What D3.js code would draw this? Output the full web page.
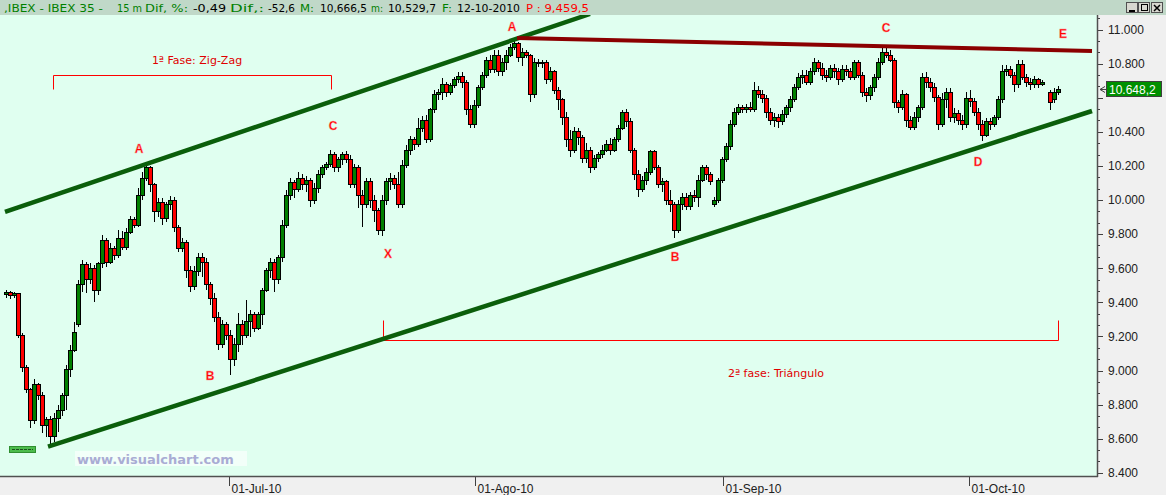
<!DOCTYPE html>
<html lang="es">
<head>
<meta charset="utf-8">
<title>IBEX 35 - 15 m</title>
<style>
  body { margin: 0; background: #f0f0f0; overflow: hidden; }
  svg { display: block; }
  text { font-family: 'Liberation Sans', Arial, sans-serif; }
</style>
</head>
<body>
<div id="chart"></div>
<script src="https://cdn.jsdelivr.net/npm/d3@7/dist/d3.min.js"></script>
<script>
// candles as [open, high, low, close], one per bar, null = no bar
var candles = [
  [9443,9472,9425,9455],[9455,9466,9419,9437],[9437,9460,9425,9449],[9449,9455,9191,9208],
  [9208,9220,8991,9015],[9015,9032,8868,8886],[8886,8897,8663,8704],[8704,8950,8686,8915],
  [8915,8927,8827,8856],[8856,8874,8634,8680],[8680,8727,8610,8710],[8710,8733,8551,8610],
  [8610,8751,8581,8721],[8721,8798,8639,8768],[8768,8868,8733,8856],[8856,9032,8768,9003],
  [9003,9150,8962,9120],[9120,9285,9109,9220],[9267,9531,9255,9502],[9502,9648,9460,9619],
  [9619,9636,9455,9531],[9531,9631,9507,9601],[9601,9619,9402,9472],[9472,9636,9443,9625],
  [9625,9795,9601,9765],[9765,9777,9607,9636],[9636,9748,9625,9718],[9718,9730,9648,9672],
  [9672,9824,9660,9777],[9777,9818,9707,9724],[9724,9836,9707,9812],[9812,9906,9801,9883],
  [9883,9900,9836,9853],[9853,10070,9842,10029],[10029,10164,10000,10129],[10129,10211,10111,10188],
  [10188,10199,10047,10088],[10088,10100,9871,9930],[9930,10012,9900,9988],[9988,10012,9853,9894],
  [9894,9988,9871,9971],[9971,10023,9941,10000],[10000,10018,9812,9836],[9836,9853,9695,9718],
  [9718,9777,9695,9748],[9748,9765,9543,9589],[9589,9613,9460,9490],[9490,9613,9472,9578],
  [9578,9689,9554,9660],[9660,9689,9548,9636],[9636,9660,9472,9502],[9502,9519,9384,9425],
  [9425,9455,9285,9308],[9308,9343,9120,9150],[9150,9296,9132,9267],[9267,9285,9179,9208],
  [9208,9238,8974,9062],[9062,9191,9026,9150],[9150,9337,9109,9267],[9267,9296,9150,9208],
  [9208,9414,9191,9285],[9285,9355,9197,9326],[9326,9343,9226,9249],[9249,9343,9238,9326],
  [9326,9484,9267,9472],[9472,9601,9460,9589],[9589,9660,9543,9636],[9636,9654,9460,9531],
  [9531,9677,9507,9660],[9660,9883,9636,9853],[9853,10059,9836,10029],[10029,10129,10000,10100],
  [10100,10117,10012,10059],[10059,10164,10047,10129],[10129,10153,10059,10088],[10088,10141,10047,10117],
  [10117,10129,9959,10000],[10000,10100,9977,10070],[10070,10176,10041,10147],[10147,10205,10129,10188],
  [10188,10223,10176,10211],[10211,10293,10194,10264],[10264,10282,10164,10188],[10188,10252,10164,10235],
  [10235,10282,10205,10264],[10264,10287,10217,10235],[10235,10264,10070,10088],[10088,10211,10070,10188],
  [10188,10205,9953,10029],[10029,10059,9842,9971],[9971,10129,9953,10106],[10106,10129,9953,10000],
  [10000,10029,9871,9941],[9941,9953,9795,9824],[9824,10029,9789,10000],[10000,10129,9971,10106],
  [10106,10158,10059,10129],[10129,10147,10065,10088],[10088,10164,9953,9971],[9971,10235,9953,10205],
  [10205,10323,10188,10293],[10293,10375,10264,10352],[10352,10370,10293,10323],[10323,10481,10311,10422],
  [10422,10493,10399,10469],[10469,10499,10334,10352],[10352,10540,10340,10528],[10528,10645,10510,10616],
  [10616,10651,10587,10628],[10628,10716,10587,10675],[10675,10692,10604,10633],[10633,10686,10616,10669],
  [10669,10721,10657,10704],[10704,10751,10686,10727],[10727,10751,10657,10692],[10692,10704,10499,10528],
  [10528,10557,10422,10440],[10440,10587,10422,10557],[10557,10675,10540,10657],[10657,10751,10645,10733],
  [10733,10839,10716,10821],[10821,10850,10745,10763],[10763,10880,10745,10850],[10850,10880,10727,10751],
  [10751,10833,10727,10809],[10809,10880,10763,10850],[10850,10915,10839,10897],[10897,10938,10880,10915],
  [10915,10927,10809,10833],[10833,10892,10786,10868],[10868,10880,10833,10845],[10845,10856,10575,10616],
  [10616,10833,10598,10809],[10809,10827,10780,10798],[10798,10821,10774,10809],[10809,10821,10680,10704],
  [10704,10780,10692,10751],[10751,10763,10622,10645],[10645,10663,10528,10587],[10587,10598,10440,10481],
  [10481,10516,10311,10352],[10352,10411,10252,10293],[10293,10428,10276,10399],[10399,10422,10323,10364],
  [10364,10381,10217,10246],[10246,10334,10217,10293],[10293,10311,10158,10188],[10188,10264,10176,10246],
  [10246,10282,10223,10264],[10264,10323,10246,10293],[10293,10352,10282,10323],[10323,10364,10264,10293],
  [10293,10370,10282,10352],[10352,10440,10340,10422],[10422,10528,10411,10516],[10516,10534,10428,10458],
  [10458,10481,10276,10293],[10293,10305,10117,10147],[10147,10176,10018,10059],[10059,10141,10047,10117],
  [10117,10188,10088,10164],[10164,10293,10147,10282],[10282,10293,10176,10188],[10188,10205,10070,10088],
  [10088,10129,10047,10106],[10106,10117,9971,10000],[10000,10059,9930,9971],[9971,9988,9777,9824],
  [9824,10000,9807,9971],[9971,10041,9941,10012],[10012,10041,9941,9959],[9959,10047,9941,10029],
  [10029,10059,9988,10012],[10012,10147,9959,10117],[10117,10205,10106,10188],[10188,10205,10117,10147],
  [10147,10164,10088,10106],[9971,10018,9959,10000],[10000,10129,9982,10117],[10117,10252,10100,10235],
  [10235,10334,10223,10311],[10311,10469,10293,10440],[10440,10540,10428,10516],[10516,10563,10499,10540],
  [10540,10557,10510,10528],[10528,10563,10510,10545],[10545,10575,10516,10528],[10528,10692,10516,10645],
  [10645,10669,10598,10616],[10616,10645,10569,10598],[10598,10616,10481,10516],[10516,10540,10440,10469],
  [10469,10510,10428,10481],[10481,10504,10422,10458],[10458,10528,10440,10499],[10499,10557,10481,10540],
  [10540,10610,10516,10587],[10587,10680,10575,10657],[10657,10745,10645,10716],[10716,10763,10680,10733],
  [10733,10763,10675,10692],[10692,10774,10675,10751],[10751,10833,10733,10809],[10809,10821,10751,10774],
  [10774,10804,10704,10733],[10733,10763,10692,10716],[10716,10792,10704,10774],[10774,10798,10716,10751],
  [10751,10774,10675,10704],[10704,10792,10692,10763],[10763,10792,10727,10751],[10751,10774,10704,10716],
  [10716,10821,10704,10804],[10804,10821,10716,10733],[10733,10751,10604,10633],[10633,10657,10575,10610],
  [10610,10675,10587,10657],[10657,10739,10633,10716],[10716,10833,10704,10809],[10809,10892,10792,10868],
  [10868,10897,10833,10845],[10845,10880,10809,10821],[10821,10833,10540,10569],[10569,10587,10510,10540],
  [10540,10645,10528,10616],[10616,10628,10428,10469],[10469,10493,10411,10428],[10428,10516,10411,10481],
  [10481,10557,10458,10540],[10540,10745,10528,10721],[10721,10751,10657,10692],[10692,10716,10633,10657],
  [10657,10686,10575,10604],[10604,10616,10411,10440],[10440,10628,10428,10587],[10587,10657,10540,10633],
  [10633,10657,10458,10481],[10481,10540,10452,10510],[10510,10528,10440,10469],[10469,10499,10411,10440],
  [10440,10633,10422,10598],[10598,10645,10545,10575],[10575,10598,10493,10516],[10516,10540,10411,10440],
  [10440,10469,10346,10381],[10381,10481,10370,10458],[10458,10481,10411,10440],[10440,10499,10428,10481],
  [10481,10610,10469,10587],[10587,10792,10569,10751],[10751,10792,10727,10763],[10763,10786,10716,10733],
  [10733,10751,10633,10675],[10675,10821,10657,10792],[10792,10821,10704,10721],[10721,10739,10663,10692],
  [10692,10716,10645,10675],[10675,10727,10657,10704],[10704,10716,10657,10675],[10675,10704,10669,10692],
  null,[10628,10645,10528,10569],[10587,10657,10569,10633],[10633,10669,10616,10648]
];

// price axis and date axis
var priceTicks = [8400, 8600, 8800, 9000, 9200, 9400, 9600, 9800, 10000, 10200, 10400, 10600, 10800, 11000];
var dateBars = [55.75, 117.25, 179.25, 240.75];
var dateLabels = ["01-Jul-10", "01-Ago-10", "01-Sep-10", "01-Oct-10"];
var lastPrice = 10648.2;
var lastPriceText = "10.648,2";

// trend lines [bar, price]
var channelTop = [[-0.25, 9931], [146, 11091]];
var channelBottom = [[10.5, 8553], [271.5, 10522]];
var triangleTop = [[127.75, 10950], [271.5, 10874]];

// wave labels
var waveNames = ["A", "B", "C", "X", "A", "B", "C", "D", "E"];
var waveBars = [33.25, 51, 81.75, 95.5, 126.5, 167.25, 220, 243, 264.25];
var wavePrices = [10299, 8968, 10434, 9683, 11015, 9666, 11009, 10223, 10974];

// phase brackets: bars from-to, price of the line, price of the tips
var phaseNames = ["1ª Fase: Zig-Zag", "2ª fase: Triángulo"];
var phaseBars = [[11.75, 81.25], [94.25, 263]];
var phaseLine = [10733, 9179];
var phaseTips = [10651, 9296];
var phaseTextBars = [47.75, 192.5];
var phaseTextPrices = [10821, 8985];

// header strip
var headerParts = [",IBEX - IBEX 35 -", "15 m", "Dif, %:", "-0,49", "Dif,:", "-52,6", "M:", "10,666,5",
  "m:", "10,529,7", "F:", "12-10-2010", "P : 9,459,5"];

var W = 1166, H = 495;
var plotRight = 1097, plotTop = 15, plotBottom = 476;

var svg = d3.select("#chart").append("svg")
  .attr("width", W)
  .attr("height", H);

var xScale = d3.scaleLinear().domain([0, 263]).range([6, 1058]);
var yScale = d3.scaleLinear().domain([8400, 11000]).range([472.8, 29.5]);

// panels
svg.append("rect").attr("width", W).attr("height", H).attr("fill", "#f0f0f0");
svg.append("rect").attr("x", 0).attr("y", plotTop).attr("width", plotRight).attr("height", plotBottom - plotTop)
  .attr("fill", "#e0fff0");
svg.append("rect").attr("width", W).attr("height", plotTop).attr("fill", "#c0d8c8");

svg.append("defs").append("clipPath").attr("id", "plot-clip")
  .append("rect").attr("x", 0).attr("y", plotTop).attr("width", plotRight).attr("height", plotBottom - plotTop);

var plot = svg.append("g").attr("clip-path", "url(#plot-clip)");

// watermark
plot.append("rect").attr("x", 75).attr("y", 451).attr("width", 172).attr("height", 15).attr("fill", "#f2fff9");
plot.append("text")
  .attr("x", 77).attr("y", 464)
  .style("font-family", "'DejaVu Sans', Verdana, sans-serif")
  .style("font-weight", "bold")
  .style("font-size", "13px")
  .attr("fill", "#a9acd4")
  .text("www.visualchart.com");

// little green tag bottom left
plot.append("rect").attr("x", 9.5).attr("y", 446.5).attr("width", 26).attr("height", 6)
  .attr("fill", "#4cbc4c").attr("stroke", "#2f8f2f");
plot.append("line").attr("x1", 12).attr("x2", 33).attr("y1", 449.5).attr("y2", 449.5)
  .attr("stroke", "#1d4d1d").attr("stroke-dasharray", "3,1");

// phase brackets
phaseBars.forEach(function (b, k) {
  var x0 = Math.round(xScale(b[0])) + 0.5, x1 = Math.round(xScale(b[1])) + 0.5;
  var yl = Math.round(yScale(phaseLine[k])) + 0.5, yt = Math.round(yScale(phaseTips[k])) + 0.5;
  plot.append("path")
    .attr("d", "M" + x0 + "," + yt + "V" + yl + "H" + x1 + "V" + yt)
    .attr("stroke", "#ff0000")
    .attr("stroke-width", 1)
    .attr("fill", "none");
  plot.append("text")
    .attr("x", xScale(phaseTextBars[k])).attr("y", yScale(phaseTextPrices[k]))
    .attr("dy", "0.35em")
    .attr("text-anchor", "middle")
    .style("font-family", "'DejaVu Sans', Verdana, sans-serif")
    .style("font-size", "11px")
    .attr("fill", "#e00000")
    .text(phaseNames[k]);
});

// candles
var bars = plot.append("g").attr("shape-rendering", "crispEdges");
candles.forEach(function (d, i) {
  if (!d) return;
  var x = Math.round(xScale(i));
  var o = d[0], h = d[1], l = d[2], c = d[3];
  bars.append("line")
    .attr("x1", x + 0.5).attr("x2", x + 0.5)
    .attr("y1", yScale(h)).attr("y2", yScale(l))
    .attr("stroke", "#000");
  var top = yScale(Math.max(o, c)), bot = yScale(Math.min(o, c));
  bars.append("rect")
    .attr("x", x - 1.5).attr("width", 4)
    .attr("y", top).attr("height", Math.max(1, bot - top))
    .attr("fill", c >= o ? "#008000" : "#ff0000")
    .attr("stroke", "#000")
    .attr("stroke-width", 1);
});

// trend lines
var line = d3.line()
  .x(function (d) { return xScale(d[0]); })
  .y(function (d) { return yScale(d[1]); });

plot.append("path").attr("d", line(channelTop)).attr("stroke", "#0b5e0b").attr("stroke-width", 4.5).attr("fill", "none");
plot.append("path").attr("d", line(channelBottom)).attr("stroke", "#0b5e0b").attr("stroke-width", 4.5).attr("fill", "none");
plot.append("path").attr("d", line(triangleTop)).attr("stroke", "#8b0000").attr("stroke-width", 4).attr("fill", "none");

// wave letters
waveNames.forEach(function (n, k) {
  plot.append("text")
    .attr("x", xScale(waveBars[k])).attr("y", yScale(wavePrices[k]))
    .attr("dy", "0.36em")
    .attr("text-anchor", "middle")
    .style("font-weight", "bold")
    .style("font-size", "12px")
    .attr("fill", "#ff0000")
    .attr("stroke", "#ff9a9a")
    .attr("stroke-width", 0.4)
    .text(n);
});

// price axis
var yAxis = svg.append("g").attr("shape-rendering", "crispEdges");
var minor = d3.range(8400, 11100, 200 / 3);
minor.forEach(function (v, k) {
  var y = Math.round(yScale(v)) + 0.5;
  yAxis.append("line")
    .attr("x1", plotRight).attr("x2", plotRight + (k % 3 === 0 ? 6 : 3))
    .attr("y1", y).attr("y2", y)
    .attr("stroke", "#404040");
});
var fmt = d3.format(",.0f");
var py = yScale(lastPrice);
priceTicks.forEach(function (v) {
  // the last-price box sits over the label it hides
  if (Math.abs(yScale(v) - py) < 10) return;
  yAxis.append("text")
    .attr("x", 1108).attr("y", yScale(v))
    .attr("dy", "0.36em")
    .style("font-size", "12px")
    .attr("fill", "#202020")
    .text(fmt(v).replace(",", "."));
});

// date axis
var xAxis = svg.append("g").attr("shape-rendering", "crispEdges");
dateBars.forEach(function (b, k) {
  var x = Math.round(xScale(b)) + 0.5;
  xAxis.append("line")
    .attr("x1", x).attr("x2", x)
    .attr("y1", plotBottom).attr("y2", plotBottom + 10)
    .attr("stroke", "#404040");
  xAxis.append("text")
    .attr("x", x + 2).attr("y", 493)
    .style("font-size", "12px")
    .attr("fill", "#202020")
    .text(dateLabels[k]);
});

// frame lines
svg.append("line").attr("x1", 0).attr("x2", plotRight + 1).attr("y1", plotBottom + 0.5).attr("y2", plotBottom + 0.5)
  .attr("stroke", "#505050").attr("stroke-width", 1.5);
svg.append("line").attr("x1", plotRight + 0.5).attr("x2", plotRight + 0.5).attr("y1", plotTop).attr("y2", plotBottom + 1)
  .attr("stroke", "#505050").attr("stroke-width", 1.5);

// last price marker
svg.append("path")
  .attr("d", "M1105," + (py - 3) + "L1100," + py + "L1105," + (py + 3) + "M1100," + py + "H1106")
  .attr("stroke", "#404040").attr("fill", "none");
svg.append("rect")
  .attr("x", 1106.5).attr("y", Math.round(py) - 7.5).attr("width", 55).attr("height", 15)
  .attr("fill", "#009000").attr("stroke", "#404040");
svg.append("text")
  .attr("x", 1109).attr("y", py)
  .attr("dy", "0.36em")
  .style("font-size", "12px")
  .attr("fill", "#ffffff")
  .text(lastPriceText);

// header
var headerX = [4, 117, 145, 193, 230, 268, 300, 320, 371, 388, 442, 457, 526];
var headerW = [99, 25, 43, 33, 34, 27, 14, 47, 12, 48, 10, 63, 63];
var headerColor = ["#008000", "#008000", "#008000", "#000", "#008000", "#000", "#008000", "#000",
  "#008000", "#000", "#008000", "#000", "#ff0000"];
headerParts.forEach(function (t, k) {
  svg.append("text")
    .attr("x", headerX[k]).attr("y", 12)
    .style("font-family", "'DejaVu Sans', Verdana, sans-serif")
    .style("font-size", "11px")
    .attr("textLength", headerW[k])
    .attr("lengthAdjust", "spacingAndGlyphs")
    .attr("fill", headerColor[k])
    .text(t);
});

// window buttons
var btn = svg.append("g").attr("shape-rendering", "crispEdges");
[1126, 1138, 1151].forEach(function (bx) {
  btn.append("rect").attr("x", bx + 0.5).attr("y", 2.5).attr("width", 11).attr("height", 10)
    .attr("fill", "#d8d8d0").attr("stroke", "#505050");
});
btn.append("line").attr("x1", 1129).attr("x2", 1135).attr("y1", 10.5).attr("y2", 10.5).attr("stroke", "#000").attr("stroke-width", 2);
btn.append("rect").attr("x", 1141.5).attr("y", 4.5).attr("width", 6).attr("height", 6).attr("fill", "none").attr("stroke", "#000");
btn.append("path").attr("d", "M1154,5L1160,11M1160,5L1154,11").attr("stroke", "#000").attr("stroke-width", 1.5)
  .attr("shape-rendering", "auto");
</script>
</body>
</html>
